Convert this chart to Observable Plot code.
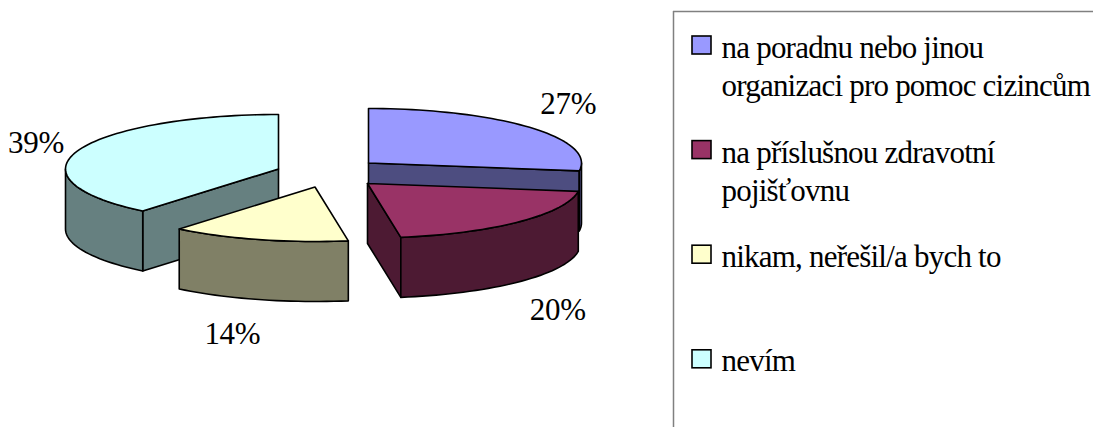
<!DOCTYPE html>
<html><head><meta charset="utf-8">
<script src="https://cdn.jsdelivr.net/npm/d3@7"></script>
<script src="https://cdn.jsdelivr.net/npm/@observablehq/plot@0.6"></script>
<style>html,body{margin:0;padding:0;background:#fff;overflow:hidden}svg{display:block}
.leg text{letter-spacing:-0.78px}.pct text{letter-spacing:-0.3px}</style>
</head><body><div id="c"></div>
<script>
const categories = ["na poradnu nebo jinou\norganizaci pro pomoc cizincům","na příslušnou zdravotní\npojišťovnu","nikam, neřešil/a bych to","nevím"];
const values = [27.3,20.2,13.5,39];
const labels = ["27%","20%","14%","39%"];
const topColors = ["#9999ff","#993366","#ffffcc","#ccffff"];
const sideColors = ["#4d4d80","#4d1a33","#808066","#668080"];

// exploded-pie geometry (layout, not data)
const W=1093,H=427,RX=213,RY=54.5,DEPTH=60;
const centers=[[368,162.5],[367,183],[314.5,186.5],[278,168.5]];
const labelAt=[[1.24,1.66],[1.255,1.74],[1.47,1.66],[1.21,1.4]];

const total=d3.sum(values);
let acc=0;
const slices=values.map((v,i)=>{const a0=acc/total*360;acc+=v;const a1=acc/total*360;return {i,a0,a1,c:centers[i]};});
const pt=(s,deg,dz=0)=>{const t=deg*Math.PI/180;return {x:s.c[0]+RX*Math.sin(t),y:s.c[1]-RY*Math.cos(t)+dz};};
const arc=(s,a,b,dz=0)=>{const n=Math.max(2,Math.ceil(Math.abs(b-a)/2));return d3.range(n+1).map(k=>pt(s,a+(b-a)*k/n,dz));};
const apex=(s,dz=0)=>({x:s.c[0],y:s.c[1]+dz});
const face=(pts,fill)=>Plot.line([...pts,pts[0]],{x:"x",y:"y",fill,stroke:"black",strokeWidth:1.6,curve:"linear",strokeLinejoin:"round"});
const top_=s=>face([apex(s),...arc(s,s.a0,s.a1)],topColors[s.i]);
const rim=(s,a,b)=>face([...arc(s,a,b),...arc(s,b,a,DEPTH)],sideColors[s.i]);
const radial=(s,a)=>face([apex(s),pt(s,a),pt(s,a,DEPTH),apex(s,DEPTH)],sideColors[s.i]);
const [s1,s2,s3,s4]=slices;
const pieMarks=[
  radial(s1,s1.a1),rim(s1,90,s1.a1),top_(s1),
  radial(s2,s2.a1),rim(s2,s2.a0,s2.a1),top_(s2),
  radial(s4,s4.a0),rim(s4,s4.a0,270),top_(s4),
  rim(s3,s3.a0,s3.a1),top_(s3)
];
const pctData=slices.map(s=>{const m=(s.a0+s.a1)/2*Math.PI/180,[fx,fy]=labelAt[s.i];
  return {x:s.c[0]+fx*RX*Math.sin(m),y:s.c[1]-fy*RY*Math.cos(m)+(Math.cos(m)<-0.3?DEPTH:0),t:labels[s.i]};});

// legend
const LEFT=673,TOP=11,ROW=104.6,FIRST=45,SW=9,TX=721;
const legend=categories.map((c,i)=>({c,i,y:FIRST+ROW*i}));
const FONT="'Liberation Serif','Times New Roman',serif";
const chart=Plot.plot({
  width:W,height:H,margin:0,style:{background:"#fff"},
  x:{domain:[0,W],range:[0,W],axis:null},
  y:{domain:[0,H],range:[0,H],axis:null},
  marks:[
    ...pieMarks,
    Plot.text(pctData,{x:"x",y:"y",text:"t",fontFamily:FONT,fontSize:31,fill:"black",className:"pct"}),
    Plot.ruleY([TOP],{x1:LEFT,x2:W,stroke:"#808080",strokeWidth:1.5}),
    Plot.ruleX([LEFT],{y1:TOP,y2:H,stroke:"#808080",strokeWidth:1.5}),
    Plot.rect(legend,{x1:()=>692,x2:()=>711,y1:d=>d.y-SW,y2:d=>d.y+SW,fill:d=>topColors[d.i],stroke:"black",strokeWidth:1.6}),
    Plot.text(legend,{x:()=>TX,y:d=>d.y+(d.c.includes("\n")?19.5:0),text:"c",textAnchor:"start",lineHeight:38/31,fontFamily:FONT,fontSize:31,fill:"black",lineAnchor:"middle",className:"leg"})
  ]
});
document.getElementById("c").append(chart);
</script></body></html>
